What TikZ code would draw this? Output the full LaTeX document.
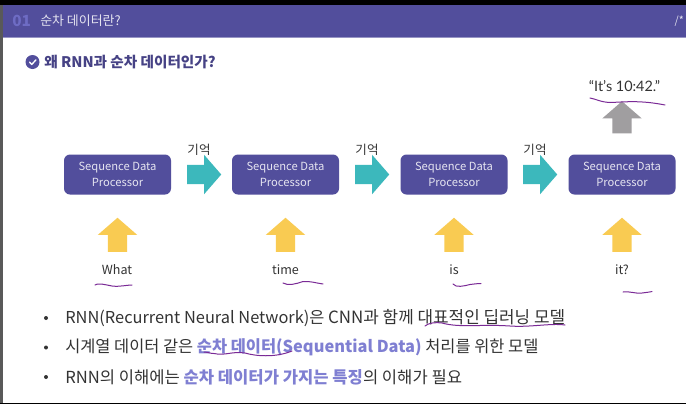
\documentclass[tikz,border=0pt]{standalone}
\usepackage{fontspec}
\setmainfont{Noto Sans CJK KR}
\newfontfamily\latofont{Lato}
\usepackage{xcolor}
\usetikzlibrary{positioning, shapes.arrows}
\definecolor{slideViolet}{HTML}{524E9C}
\definecolor{slideNumber}{HTML}{6E6CC4}
\definecolor{slideTeal}{HTML}{3CB8BC}
\definecolor{slideYellow}{HTML}{F9CB52}
\definecolor{slideGray}{HTML}{A09EA0}
\definecolor{slideText}{HTML}{333333}
\definecolor{slideEmph}{HTML}{7F7FD2}
\definecolor{slideInk}{HTML}{7A2A96}

\begin{document}
\begin{tikzpicture}[
  x=0.75pt, y=-0.75pt,
  every node/.style={font=\fontsize{9.4}{12}\selectfont, text=slideText, inner sep=0pt},
  procbox/.style={
    rectangle, rounded corners=4.5pt,
    minimum width=80.25pt, minimum height=30pt,
    fill=slideViolet, text=white!85!slideViolet,
    align=center, font=\fontsize{8.4}{11.6}\selectfont
  },
  blockarrow/.style={
    single arrow, draw=none, fill=#1,
    minimum height=25.5pt,
    inner xsep=0pt, inner ysep=7.1pt,
    single arrow head extend=7.5pt,
    single arrow tip angle=98
  },
  bullettext/.style={
    anchor=west, font=\fontsize{12.3}{14}\selectfont
  },
  bulletdot/.style={circle, fill=slideText, minimum size=3pt},
  wordlabel/.style={font=\fontsize{9.4}{12}\selectfont},
  inkline/.style={slideInk, line width=0.75pt, line cap=round},
]
\useasboundingbox (0,0) rectangle (686,404);

% === FRAME ===
\fill[white] (0,0) rectangle (686,404);
\fill[black] (0,0) rectangle (686,5);
\fill[black] (0,402.5) rectangle (686,404);
\fill[slideViolet] (0,5) rectangle (686,37);
\fill[slideViolet!60] (0,36.5) rectangle (686,38);
\fill[black!65] (0,5) rectangle (3,402.5);

% === HEADER ===
\node[anchor=west, text=slideNumber, font=\fontsize{11.5}{12}\selectfont\bfseries] (h-num) at (12,20.5) {01};
\node[anchor=west, text=white!85!slideViolet, font=\fontsize{9.7}{12}\selectfont] (h-title) at (40,20.5) {순차 데이터란?};
\node[anchor=east, text=white!85!slideViolet, font=\fontsize{8}{8}\selectfont] (h-mark) at (684,21.5) {/*};

% === QUESTION ===
\node[circle, fill=slideViolet, minimum size=10.5pt] (q-icon) at (32.5,62) {};
\draw[white, line width=1pt, line cap=round, line join=round] (29.5,62) -- (31.7,64.5) -- (36,59.8);
\node[anchor=west, text=slideViolet!85!black, font=\fontsize{10.95}{12}\selectfont\bfseries, right=3.2pt of q-icon] (q-text) {왜 RNN과 순차 데이터인가?};

% === PROCESSORS ===
\node[procbox] (p1) at (117.5,174.5) {Sequence Data\\Processor};
\node[procbox] (p2) at (285.5,174.5) {Sequence Data\\Processor};
\node[procbox] (p3) at (454,174.5) {Sequence Data\\Processor};
\node[procbox] (p4) at (622,174.5) {Sequence Data\\Processor};

% Memory arrows
\node[blockarrow=slideTeal] (m1) at (200,174.5) {};
\node[blockarrow=slideTeal] (m2) at (368,174.5) {};
\node[blockarrow=slideTeal] (m3) at (536,174.5) {};
\node (m1-label) at (199,149.5) {기억};
\node (m2-label) at (367,149.5) {기억};
\node (m3-label) at (535,149.5) {기억};

% Input arrows
\node[blockarrow=slideYellow, rotate=90] (a1) at (117.5,239) {};
\node[blockarrow=slideYellow, rotate=90] (a2) at (285.5,239) {};
\node[blockarrow=slideYellow, rotate=90] (a3) at (454,239) {};
\node[blockarrow=slideYellow, rotate=90] (a4) at (622,239) {};

% Input words
\node[wordlabel] (w1) at (117,270) {What};
\node[wordlabel] (w2) at (285.5,270) {time};
\node[wordlabel] (w3) at (454,270) {is};
\node[wordlabel] (w4) at (622,270) {it?};

% Output
\node[blockarrow=slideGray, rotate=90, minimum height=24pt] (out) at (622,121.5) {};
\node[font=\latofont\fontsize{10.8}{12}\selectfont] (out-label) at (624.5,86) {“It’s 10:42.”};

% === BULLETS ===
\node[bulletdot] (b1) at (46,318) {};
\node[bulletdot] (b2) at (46,347.5) {};
\node[bulletdot] (b3) at (46,377) {};
\node[bullettext] (t1) at (65,318) {RNN(Recurrent Neural Network)은 {\fontsize{12.68}{14}\selectfont CNN과 함께 대표적인 딥러닝 모델}};
\node[bullettext] (t2) at (65,347.5) {시계열 데이터 같은 \textcolor{slideEmph}{\bfseries 순차 데이터(Sequential Data)} 처리를 위한 모델};
\node[bullettext, font=\fontsize{12.45}{14}\selectfont] (t3) at (65,377) {RNN의 이해에는 \textcolor{slideEmph}{\bfseries 순차 데이터가 가지는 특징}의 이해가 필요};

% === PEN MARKS ===
\draw[inkline] (590,98) .. controls (596,99) and (600,102) .. (610,102.5) .. controls (625,102) and (640,100) .. (665,105);
\draw[inkline] (95,285) .. controls (98,283) and (102,284) .. (112,286) .. controls (120,287) and (126,285) .. (132,285);
\draw[inkline] (283,283) .. controls (288,286) and (296,284) .. (303,281.5) .. controls (310,281) and (316,283) .. (323,284);
\draw[inkline] (453,284) .. controls (456,288) and (464,286) .. (470,284.5) .. controls (474,284) and (478,283.5) .. (481,283.5);
\draw[inkline] (623,292) .. controls (630,291) and (636,294) .. (642,293) .. controls (646,292.5) and (650,292) .. (652,291.5);
\draw[inkline] (425,326) .. controls (428,323) and (436,322) .. (442,323) .. controls (460,328) and (480,324) .. (510,326) .. controls (530,327.5) and (550,323) .. (565,325);
\draw[inkline] (204,352) .. controls (208,352) and (212,354) .. (214,353.5) .. controls (225,356) and (232,351) .. (245,353) .. controls (255,356) and (275,358) .. (292,351);
\end{tikzpicture}
\end{document}
